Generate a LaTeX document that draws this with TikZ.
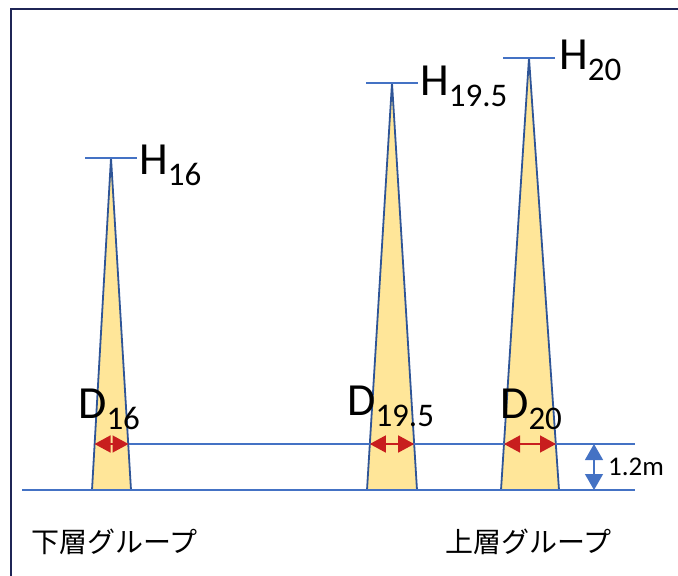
\documentclass[tikz,border=0pt]{standalone}
\usepackage{fontspec}
\setmainfont{Carlito}
\newfontfamily\jpfont{Noto Sans CJK JP}
\usetikzlibrary{arrows.meta}

% symbol with lowered index, as in the slide
\newcommand{\symsub}[2]{{\fontsize{46}{50}\selectfont #1}\raisebox{-11pt}{\fontsize{33}{36}\selectfont #2}}

\begin{document}
\begin{tikzpicture}[x=1pt, y=-1pt, >={Triangle[length=16pt, width=17pt]}]
            \definecolor{framecolor}{RGB}{31, 37, 86}
            \definecolor{treefill}{RGB}{255, 230, 153}
            \definecolor{treeedge}{RGB}{47, 85, 151}
            \definecolor{lineblue}{RGB}{68, 114, 196}
            \definecolor{arrowred}{RGB}{200, 30, 30}

            \tikzset{
                tree/.style={draw=treeedge, fill=treefill, line width=1.8pt, line join=round},
                refline/.style={lineblue, line width=1.2pt},
                dwidth/.style={<->, arrowred, line width=1.5pt},
                dheight/.style={{Triangle[length=16pt, width=18pt]}-{Triangle[length=16pt, width=18pt]}, lineblue, line width=1.2pt},
                lbl/.style={inner sep=0pt, anchor=base west}
            }

            \useasboundingbox (0,0) rectangle (678,576);
            \draw[framecolor, line width=2pt] (11,576) -- (11,9) -- (678,9);

            \foreach \n/\sub/\bl/\br/\tx/\ty/\ml/\mr/\hx/\hy/\dx/\dy in {
                    16/16/92/131/111/158/94.5/128.5/139/174/78/418,
                    195/19.5/367/417/392/83/369.8/414.2/420/95/347/415,
                    20/20/501/559/529/58/504/556/559/69/500/418} {
                    \filldraw[tree] (\bl,490) -- (\tx,\ty) -- (\br,490) -- cycle;
                    \coordinate (top\n) at (\tx,\ty);
                    \draw[refline] ([xshift=-26pt]top\n) -- ([xshift=26pt]top\n);
                    \coordinate (dl\n) at (\ml,444);
                    \coordinate (dr\n) at (\mr,444);
                    \node[lbl] (H\n) at (\hx,\hy) {\symsub{H}{\sub}};
                    \node[lbl] (D\n) at (\dx,\dy) {\symsub{D}{\sub}};
                }

            \coordinate (g0) at (22,490);
            \coordinate (g1) at (635,490);
            \coordinate (m1) at (635,444);
            \draw[refline] (g0) -- (g1);
            \draw[refline] (dr16) -- (m1);

            \foreach \n in {16, 195, 20} {
                    \draw[dwidth] (dl\n) -- (dr\n);
                }

            \coordinate (hlo) at (594,490);
            \coordinate (hhi) at (594,444);
            \draw[dheight] (hhi) -- (hlo);
            \node[lbl, font=\fontsize{27}{30}\selectfont] (hval) at (608,475) {1.2m};

            \node[lbl, font=\jpfont\fontsize{28}{32}\selectfont] (lower) at (31,552) {下層グループ};
            \node[lbl, font=\jpfont\fontsize{28}{32}\selectfont] (upper) at (445,552) {上層グループ};
        \end{tikzpicture}
\end{document}
